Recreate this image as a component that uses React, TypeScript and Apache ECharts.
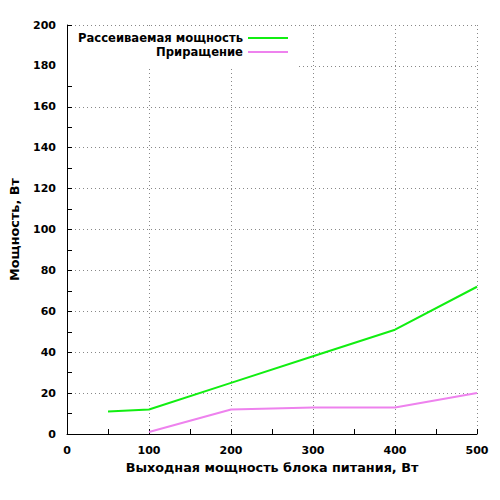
import { useEffect, useRef } from 'react';
import * as echarts from 'echarts';

// Выходная мощность, Вт (x) / мощность, Вт (y)
const dissipatedX = [50, 100, 200, 300, 400, 500];
const dissipatedY = [11, 12, 25, 38, 51, 72];
const incrementX = [100, 200, 300, 400, 500];
const incrementY = [1, 12, 13, 13, 20];

const seriesNames = ['Рассеиваемая мощность', 'Приращение'];
const seriesColors = ['#11ee11', '#ee82ee'];

const FONT = 'DejaVu Sans';

export default function App() {
  const chartRef = useRef<HTMLDivElement>(null);

  useEffect(() => {
    if (!chartRef.current) return;
    const chart = echarts.init(chartRef.current, null, { renderer: 'svg' });

    const gridLine = { show: true, lineStyle: { color: '#888', type: [1, 3] as any, width: 1 } };

    const legendBase = {
      right: 212,
      orient: 'vertical' as const,
      align: 'right' as const,
      padding: 0,
      icon: 'rect',
      itemWidth: 40,
      itemHeight: 2,
      textStyle: { fontFamily: FONT, fontSize: 11.6, fontWeight: 'bold' as const, color: '#000', lineHeight: 14 },
    };

    const option: echarts.EChartsOption = {
      animation: false,
      backgroundColor: '#fff',
      grid: { left: 66, right: 23, top: 25, bottom: 66 },
      legend: [
        { ...legendBase, top: 31, data: [seriesNames[0]] },
        { ...legendBase, top: 45, data: [seriesNames[1]] },
      ],
      graphic: [
        {
          type: 'rect',
          z: 1,
          shape: { x: 68, y: 27, width: 228, height: 42 },
          style: { fill: '#fff' },
        },
      ],
      xAxis: {
        type: 'value',
        min: 0,
        max: 500,
        interval: 100,
        name: 'Выходная мощность блока питания, Вт',
        nameLocation: 'middle',
        nameGap: 27,
        nameTextStyle: { fontFamily: FONT, fontSize: 12.8, fontWeight: 'bold', color: '#000' },
        axisLine: { show: true, onZero: false, lineStyle: { color: '#000', width: 1 } },
        axisTick: { show: true, inside: true, length: 5, lineStyle: { color: '#000' } },
        minorTick: { show: true, splitNumber: 2, length: 5, lineStyle: { color: '#000' } },
        axisLabel: { fontFamily: FONT, fontSize: 11, fontWeight: 'bold', color: '#000', margin: 11 },
        splitLine: gridLine,
      },
      yAxis: {
        type: 'value',
        min: 0,
        max: 200,
        interval: 20,
        name: 'Мощность, Вт',
        nameLocation: 'middle',
        nameGap: 46,
        nameTextStyle: { fontFamily: FONT, fontSize: 12.8, fontWeight: 'bold', color: '#000' },
        axisLine: { show: true, onZero: false, lineStyle: { color: '#000', width: 1 } },
        axisTick: { show: true, inside: true, length: 5, lineStyle: { color: '#000' } },
        minorTick: { show: true, splitNumber: 2, length: 5, lineStyle: { color: '#000' } },
        axisLabel: { fontFamily: FONT, fontSize: 11, fontWeight: 'bold', color: '#000', margin: 11 },
        splitLine: gridLine,
      },
      series: [
        {
          name: seriesNames[0],
          type: 'line',
          showSymbol: false,
          symbol: 'none',
          color: seriesColors[0],
          lineStyle: { width: 2, color: seriesColors[0] },
          data: dissipatedX.map((x, i) => [x, dissipatedY[i]]),
        },
        {
          name: seriesNames[1],
          type: 'line',
          showSymbol: false,
          symbol: 'none',
          color: seriesColors[1],
          lineStyle: { width: 2, color: seriesColors[1] },
          data: incrementX.map((x, i) => [x, incrementY[i]]),
        },
      ],
    };

    chart.setOption(option);
    return () => chart.dispose();
  }, []);

  return <div ref={chartRef} style={{ width: 500, height: 500, margin: -8 }} />;
}
